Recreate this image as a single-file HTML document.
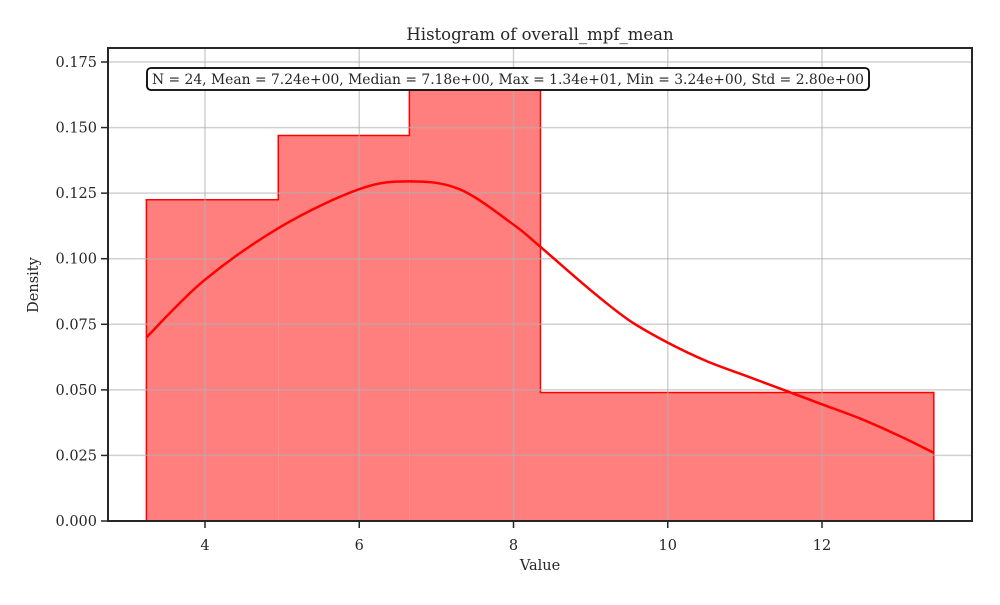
<!DOCTYPE html>
<html><head><meta charset="utf-8"><style>
body{margin:0;background:#fff}
svg text{font-family:"DejaVu Serif","Liberation Serif",serif;fill:#262626}
</style></head><body>
<svg id="c" width="1000" height="600">
<rect width="1000" height="600" fill="#fff"/>
<g id="bars"></g><g id="grid"></g><g id="kde"></g><g id="axes"></g>
</svg>
<script>
const binEdges=[3.24,4.95,6.65,8.35,13.45];
const densities=[0.1225,0.147,0.172,0.049];
const kdeX=[3.24,4,5,6,6.64,7.3,8,8.33,9,9.5,10,10.5,11,11.5,12,12.5,13,13.45];
const kdeY=[0.070,0.092,0.1125,0.1265,0.1295,0.1265,0.113,0.105,0.088,0.0765,0.068,0.061,0.0555,0.050,0.0445,0.039,0.0325,0.026];
const xTicks=[4,6,8,10,12];
const yTicks=[0,0.025,0.05,0.075,0.1,0.125,0.15,0.175];
const yLabels=["0.000","0.025","0.050","0.075","0.100","0.125","0.150","0.175"];
const L=108,R=972,T=48,B=521;
const sx=v=>205+(v-4)*77.125;
const sy=v=>521-v*(459/0.175);
const NS="http://www.w3.org/2000/svg";
function mk(tag,attrs,parent,txt){const e=document.createElementNS(NS,tag);for(const k in attrs)e.setAttribute(k,attrs[k]);if(txt!==undefined)e.textContent=txt;parent.appendChild(e);return e;}
const bars=document.getElementById('bars'),grid=document.getElementById('grid'),kde=document.getElementById('kde'),axes=document.getElementById('axes');
let d=`M${sx(binEdges[0])},${sy(0)}`;
densities.forEach((v,i)=>{
  const r=mk('rect',{x:sx(binEdges[i]),y:sy(v),width:sx(binEdges[i+1])-sx(binEdges[i]),height:sy(0)-sy(v),fill:'#ff7f7f'},bars);
  
  
  d+=` L${sx(binEdges[i])},${sy(v)} L${sx(binEdges[i+1])},${sy(v)}`;
});
d+=` L${sx(binEdges[binEdges.length-1])},${sy(0)}`;
const outline=mk('path',{d:d,fill:'none',stroke:'#ff0000','stroke-width':1.5},bars);


xTicks.forEach(t=>{
  const g=mk('line',{x1:sx(t),x2:sx(t),y1:T,y2:B,stroke:'#b0b0b0','stroke-opacity':0.6,'stroke-width':1.5},grid);
  
  
  mk('line',{x1:sx(t),x2:sx(t),y1:B,y2:B+7,stroke:'#262626','stroke-width':1.5},axes);
  const tl=mk('text',{x:sx(t),y:B+29,'text-anchor':'middle','font-size':14.5},axes,String(t));
  
  
});
yTicks.forEach((t,i)=>{
  const g=mk('line',{x1:L,x2:R,y1:sy(t),y2:sy(t),stroke:'#b0b0b0','stroke-opacity':0.6,'stroke-width':1.5},grid);
  
  
  mk('line',{x1:L-7,x2:L,y1:sy(t),y2:sy(t),stroke:'#262626','stroke-width':1.5},axes);
  const tl=mk('text',{x:L-11,y:sy(t)+5,'text-anchor':'end','font-size':14.5},axes,yLabels[i]);
  
  
});
const pts=kdeX.map((x,i)=>[sx(x),sy(kdeY[i])]);
let kd=`M${pts[0][0]},${pts[0][1]}`;
for(let i=0;i<pts.length-1;i++){
  const p0=pts[Math.max(i-1,0)],p1=pts[i],p2=pts[i+1],p3=pts[Math.min(i+2,pts.length-1)];
  const c1=[p1[0]+(p2[0]-p0[0])/6,p1[1]+(p2[1]-p0[1])/6],c2=[p2[0]-(p3[0]-p1[0])/6,p2[1]-(p3[1]-p1[1])/6];
  kd+=` C${c1[0]},${c1[1]} ${c2[0]},${c2[1]} ${p2[0]},${p2[1]}`;
}
const kp=mk('path',{d:kd,fill:'none',stroke:'#ff0000','stroke-width':2.5},kde);


const fr=mk('rect',{x:L,y:T,width:R-L,height:B-T,fill:'none',stroke:'#262626','stroke-width':2},axes);


const sb=mk('rect',{x:147,y:68,width:722,height:22,rx:4,fill:'#fff',stroke:'#000','stroke-width':1.8},axes);


const st=mk('text',{x:508,y:84,'text-anchor':'middle','font-size':13.9,textLength:712,lengthAdjust:'spacingAndGlyphs'},axes,'N = 24, Mean = 7.24e+00, Median = 7.18e+00, Max = 1.34e+01, Min = 3.24e+00, Std = 2.80e+00');


const ti=mk('text',{x:540,y:40,'text-anchor':'middle','font-size':16.5},axes,'Histogram of overall_mpf_mean');


const xt=mk('text',{x:540,y:570,'text-anchor':'middle','font-size':14.5},axes,'Value');


const yt=mk('text',{x:0,y:0,'text-anchor':'middle','font-size':14.5,transform:'translate(38,285) rotate(-90)'},axes,'Density');


</script>
</body></html>
